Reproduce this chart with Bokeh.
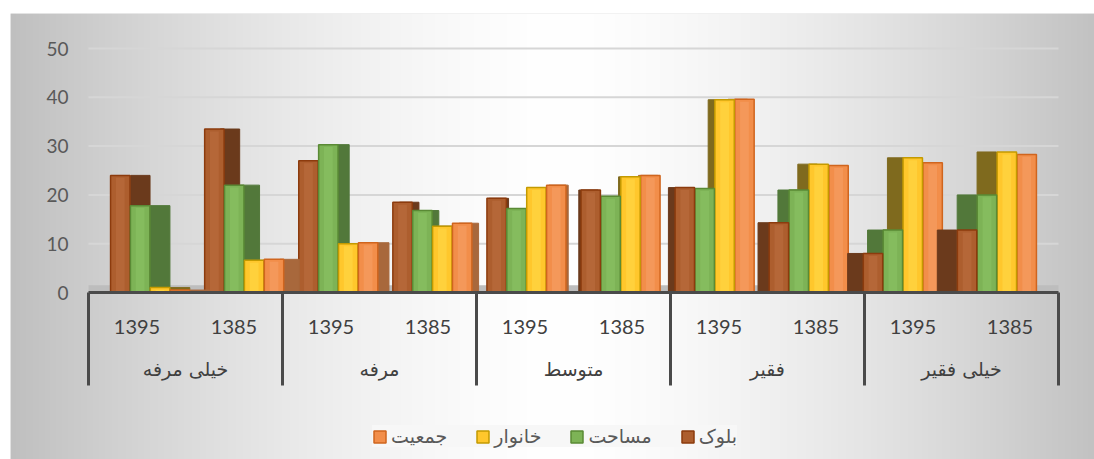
import numpy as np
from bokeh.plotting import figure
from bokeh.models import ColumnDataSource, Range1d, Legend, LegendItem
from bokeh.core.properties import value
from bokeh.embed import file_html
from bokeh.resources import INLINE

# ---------------- data ----------------
groups = ["خیلی مرفه", "مرفه", "متوسط", "فقیر", "خیلی فقیر"]
years = ["1395", "1385"]
series_names = ["بلوک", "مساحت", "خانوار", "جمعیت"]
block = [24.0, 33.5, 27.0, 18.5, 19.3, 21.0, 21.5, 14.3, 8.0, 12.8]
area = [17.8, 22.0, 30.3, 16.8, 17.2, 19.7, 21.3, 21.0, 12.8, 20.0]
household = [1.0, 6.6, 10.0, 13.6, 21.5, 23.7, 39.5, 26.3, 27.6, 28.8]
population = [0.5, 6.8, 10.2, 14.2, 22.0, 24.0, 39.6, 26.0, 26.6, 28.3]
y_ticks = [0, 10, 20, 30, 40, 50]

series_values = [block, area, household, population]

# ---------------- styles ----------------
front_colors = ["#AD5E2E", "#7DB356", "#FFC72C", "#F28E4A"]
side_colors = ["#6B3A1C", "#52783A", "#7F6A1E", "#A8683C"]
edge_colors = ["#8C3B0D", "#5A8A35", "#C49A00", "#D0651E"]
highlight_colors = ["#BC7042", "#8CC266", "#FFD84A", "#F6A068"]

W_PX, H_PX = 1094, 459
BORDER_L, BORDER_T = 10, 13
FRAME_W, FRAME_H = W_PX - BORDER_L, H_PX - BORDER_T
X_PX_PER_UNIT = 97.0
Y_PX_PER_UNIT = 4.88
X0_OFFSET = 78.0   # px from frame left to first category boundary
Y0_OFFSET = 279.0  # px from frame top to value 0

x_start = -X0_OFFSET / X_PX_PER_UNIT
x_end = x_start + FRAME_W / X_PX_PER_UNIT
y_end = Y0_OFFSET / Y_PX_PER_UNIT
y_start = y_end - FRAME_H / Y_PX_PER_UNIT

p = figure(width=W_PX, height=H_PX, output_backend="svg", toolbar_location=None,
           x_range=Range1d(x_start, x_end), y_range=Range1d(y_start, y_end),
           min_border_left=BORDER_L, min_border_top=BORDER_T,
           min_border_right=0, min_border_bottom=0)
p.axis.visible = False
p.grid.visible = False
p.outline_line_color = None
p.border_fill_color = "white"
p.background_fill_color = "#E0E0E0"

# background gradient (horizontal, white near centre)
NW = 700
xs = x_start + (np.arange(NW) + 0.5) * (x_end - x_start) / NW
center_x = (560 - 88) / X_PX_PER_UNIT
half_w = 540 / X_PX_PER_UNIT
d = np.clip(np.abs(xs - center_x) / half_w, 0, 1.05)
g = np.clip(255 - 62 * d ** 1.5, 0, 255).astype(np.uint8)
img = np.empty((1, NW), dtype=np.uint32)
view = img.view(dtype=np.uint8).reshape((1, NW, 4))
view[..., 0] = g
view[..., 1] = g
view[..., 2] = g
view[..., 3] = 255
p.image_rgba(image=[img], x=x_start, y=y_start, dw=x_end - x_start, dh=y_end - y_start)

n_slots = len(groups) * len(years)
mid = n_slots / 2.0

# gridlines
grid_y = [t for t in y_ticks if t > 0]
p.segment(x0=[0] * len(grid_y), x1=[n_slots] * len(grid_y), y0=grid_y, y1=grid_y,
          line_color="#D6D6D6", line_width=2)

# floor band
p.quad(left=[0], right=[n_slots], bottom=[0], top=[1.5], fill_color="#BDBDBD",
       line_color=None)

# bars
BAR_W = 0.2
STEP = 0.205
slot_centers = [i + 0.5 for i in range(n_slots)]
legend_renderers = {}
for half in ("left", "right"):
    idx = [i for i, c in enumerate(slot_centers) if (c < mid) == (half == "left")]
    order = [0, 1, 2, 3] if half == "left" else [3, 2, 1, 0]
    for s in order:
        xs_f, xs_s, tops, tops_h = [], [], [], []
        for i in idx:
            c = slot_centers[i]
            xc = mid + 0.97 * (c - mid) + (s - 1.5) * STEP
            dx = -(c - mid) * 0.046
            xs_f.append(xc)
            xs_s.append(xc + dx)
            tops.append(series_values[s][i])
            tops_h.append(max(series_values[s][i] - 0.5, 0))
        src = ColumnDataSource(dict(x=xs_f, xs=xs_s, top=tops, toph=tops_h))
        p.vbar(x="xs", width=BAR_W, top="top", bottom=0, source=src,
               fill_color=side_colors[s], line_color=side_colors[s], line_width=1)
        r = p.vbar(x="x", width=BAR_W, top="top", bottom=0, source=src,
                   fill_color=front_colors[s], line_color=edge_colors[s], line_width=1.5)
        p.vbar(x="x", width=BAR_W * 0.45, top="toph", bottom=0.3, source=src,
               fill_color=highlight_colors[s], fill_alpha=0.55, line_color=None)
        if s not in legend_renderers:
            legend_renderers[s] = r

# category axis
axis_color = "#4A4A4A"
p.segment(x0=[0], x1=[n_slots], y0=[0], y1=[0], line_color=axis_color, line_width=3)
sep_x = list(range(0, n_slots + 1, len(years)))
sep_bottom = -93 / Y_PX_PER_UNIT
p.segment(x0=sep_x, x1=sep_x, y0=[0] * len(sep_x), y1=[sep_bottom] * len(sep_x),
          line_color=axis_color, line_width=3)

year_labels = [y for _ in groups for y in years]
p.text(x=slot_centers, y=[-34 / Y_PX_PER_UNIT] * n_slots, text=year_labels,
       text_align="center", text_baseline="middle", text_font=value("Lato"),
       text_font_size="20px", text_color="#404040")

group_centers = [len(years) * (k + 0.5) for k in range(len(groups))]
p.text(x=group_centers, y=[-76 / Y_PX_PER_UNIT] * len(groups), text=groups,
       text_align="center", text_baseline="middle", text_font=value("DejaVu Sans"),
       text_font_size="19px", text_color="#404040")

# value axis labels
p.text(x=[-20 / X_PX_PER_UNIT] * len(y_ticks), y=y_ticks, text=[str(t) for t in y_ticks],
       text_align="right", text_baseline="middle", text_font=value("Lato"),
       text_font_size="19px", text_color="#595959")

# legend
items = [LegendItem(label=series_names[s], renderers=[legend_renderers[s]]) for s in [3, 2, 1, 0]]
legend = Legend(items=items, orientation="horizontal", location=(362, 12),
                label_text_font="DejaVu Sans", label_text_font_size="19px",
                label_text_color="#595959", glyph_width=15, glyph_height=15,
                label_standoff=4, spacing=28, padding=11,
                background_fill_color="#F7F7F7", background_fill_alpha=1.0,
                border_line_color=None)
p.add_layout(legend, "center")

open("out.html", "w").write(file_html(p, INLINE))
